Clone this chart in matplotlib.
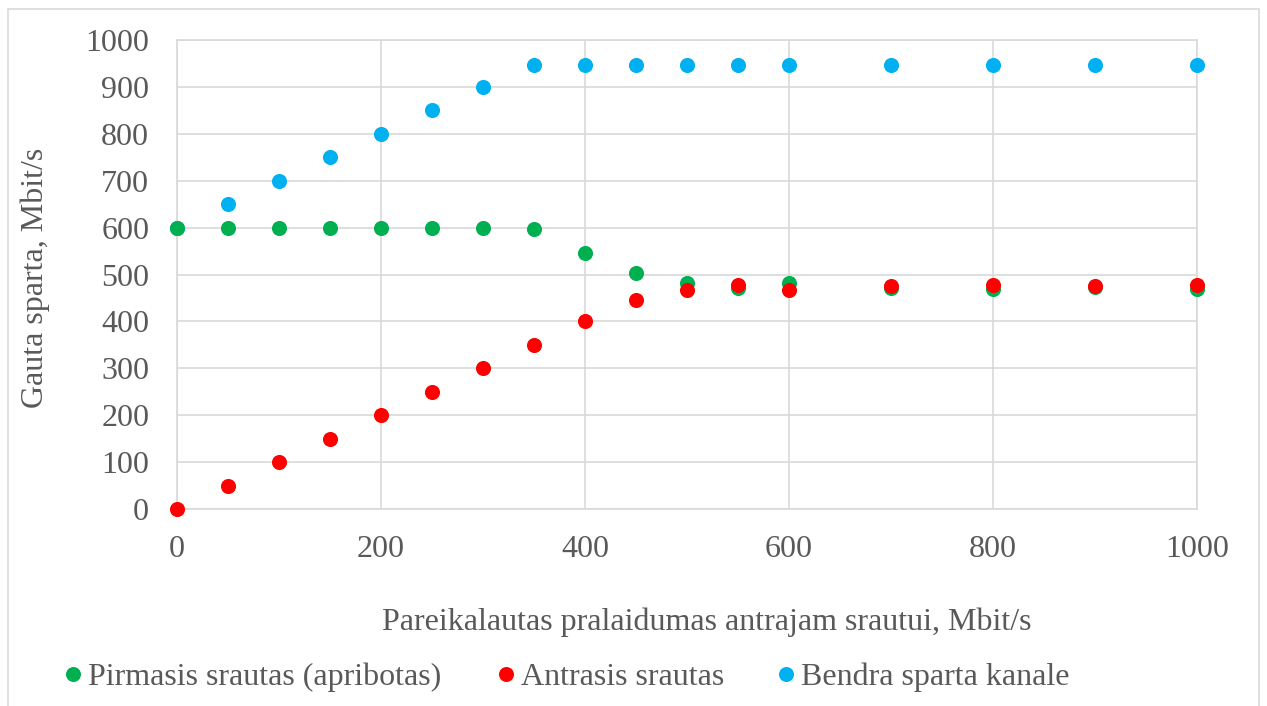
import matplotlib
matplotlib.use("Agg")
import matplotlib.pyplot as plt
from matplotlib.patches import Rectangle
from matplotlib.lines import Line2D

plt.rcParams['font.family'] = ['Liberation Serif', 'DejaVu Serif']

# Requested bandwidth for the second flow, Mbit/s
x_req = [0, 50, 100, 150, 200, 250, 300, 350, 400, 450, 500, 550, 600, 700, 800, 900, 1000]

# Measured throughput, Mbit/s
first_flow = [600, 600, 600, 600, 600, 600, 600, 597, 546, 503, 481, 471, 481, 472, 469, 473, 469]
second_flow = [0, 50, 100, 150, 200, 250, 300, 350, 400, 446, 467, 477, 467, 476, 478, 476, 478]
total_rate = [600, 650, 700, 750, 800, 850, 900, 947, 947, 947, 947, 947, 947, 947, 947, 947, 947]

series_names = ["Pirmasis srautas (apribotas)", "Antrasis srautas", "Bendra sparta kanale"]
series_colors = ["#00B050", "#FF0000", "#00B0F0"]

x_label = "Pareikalautas pralaidumas antrajam srautui, Mbit/s"
y_label = "Gauta sparta, Mbit/s"

text_color = "#595959"
grid_color = "#D9D9D9"
fs = 23
W, H = 1267, 706

fig = plt.figure(figsize=(W / 100, H / 100), dpi=100)
ax = fig.add_axes([177 / W, 1 - 509 / H, (1197 - 177) / W, (509 - 40) / H])

# Outer chart border
fig.patches.append(Rectangle((8 / W, -0.01), (1259 - 8) / W, 1 - 9 / H + 0.01,
                             transform=fig.transFigure, fill=False,
                             edgecolor=grid_color, linewidth=1.2))

ax.scatter(x_req, total_rate, s=118, color=series_colors[2], zorder=3,
           linewidths=0, clip_on=False)
ax.scatter(x_req, first_flow, s=118, color=series_colors[0], zorder=4,
           linewidths=0, clip_on=False)
ax.scatter(x_req, second_flow, s=118, color=series_colors[1], zorder=5,
           linewidths=0, clip_on=False)

ax.set_xlim(0, 1000)
ax.set_ylim(0, 1000)
ax.set_xticks(range(0, 1001, 200))
ax.set_yticks(range(0, 1001, 100))
ax.grid(True, color=grid_color, linewidth=1.2, zorder=0)
ax.set_axisbelow(True)
for sp in ax.spines.values():
    sp.set_color(grid_color)
    sp.set_linewidth(1.2)
ax.tick_params(length=0, labelsize=fs, labelcolor=text_color)
ax.tick_params(axis='x', pad=19)
ax.tick_params(axis='y', pad=20)

fig.text(707 / W, 1 - 622 / H, x_label, ha='center', va='center',
         fontsize=fs, color=text_color)
fig.text(35 / W, 1 - 278 / H, y_label, ha='center', va='center',
         rotation=90, fontsize=fs, color=text_color)

# Legend entries placed in a single row below the axis title
marker_x = [73, 506, 786]
for name, col, mx in zip(series_names, series_colors, marker_x):
    h = Line2D([], [], linestyle='none', marker='o', markersize=10.8,
               markerfacecolor=col, markeredgewidth=0)
    leg = fig.legend([h], [name], loc='center left',
                     bbox_to_anchor=((mx - 8) / W, 1 - 677 / H),
                     frameon=False, fontsize=fs, labelcolor=text_color,
                     handlelength=0.5, handletextpad=0.22,
                     borderpad=0, borderaxespad=0)

fig.savefig("out.png", dpi=100)
